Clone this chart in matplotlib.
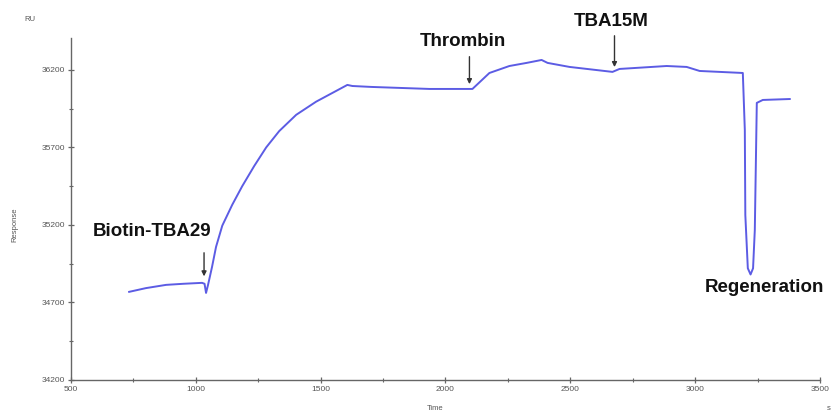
import matplotlib
matplotlib.use("Agg")
import matplotlib.pyplot as plt
from matplotlib.ticker import MultipleLocator

# sensorgram trace (time in s, response in RU)
time_s = [733, 800, 881, 950, 1025, 1035, 1041, 1049, 1065, 1081, 1106, 1146,
          1186, 1234, 1282, 1334, 1402, 1482, 1563, 1607, 1627, 1703, 1936,
          2108, 2176, 2256, 2325, 2385, 2409, 2497, 2669, 2697, 2886, 2966,
          3018, 3191, 3199, 3201, 3211, 3222, 3232, 3239, 3247, 3271, 3379]
response = [34768, 34792, 34813, 34820, 34826, 34820, 34761, 34813, 34929,
            35058, 35195, 35330, 35450, 35580, 35700, 35805, 35910, 35995,
            36065, 36103, 36096, 36090, 36077, 36077, 36180, 36225, 36245,
            36264, 36245, 36219, 36187, 36206, 36225, 36219, 36193, 36180,
            35812, 35264, 34920, 34880, 34920, 35167, 35987, 36006, 36012]

# event labels: text, text position, arrow tip / tail
events = ["Biotin-TBA29", "Thrombin", "TBA15M", "Regeneration"]
text_xy = [(825, 35155), (2068, 36380), (2665, 36509), (3279, 34793)]
arrow_tip = [(1033, 34850), (2096, 36090), (2677, 36200), None]
arrow_tail = [(1033, 35038), (2096, 36303), (2677, 36438), None]

x_ticks = [500, 1000, 1500, 2000, 2500, 3000, 3500]
y_ticks = [34200, 34700, 35200, 35700, 36200]

plt.rcParams["font.family"] = ["Liberation Sans", "DejaVu Sans"]

fig = plt.figure(figsize=(8.35, 4.17), dpi=100)
ax = fig.add_axes([0.085, 0.089, 0.897, 0.82])

ax.plot(time_s, response, color="#5c5ce4", lw=1.4)

ax.set_xlim(500, 3500)
ax.set_ylim(34200, 36406)
ax.set_xticks(x_ticks)
ax.set_yticks(y_ticks)
ax.xaxis.set_minor_locator(MultipleLocator(500, offset=250))
ax.yaxis.set_minor_locator(MultipleLocator(500, offset=450))

axis_grey = "#666666"
for side in ["top", "right"]:
    ax.spines[side].set_visible(False)
for side in ["left", "bottom"]:
    ax.spines[side].set_color(axis_grey)
    ax.spines[side].set_linewidth(1.0)
ax.tick_params(which="major", direction="inout", length=5, width=0.9,
               colors=axis_grey, labelsize=6, labelcolor="#555555", pad=2)
ax.tick_params(which="minor", direction="inout", length=3, width=0.8,
               colors=axis_grey)

for label, (tx, ty), tip, tail in zip(events, text_xy, arrow_tip, arrow_tail):
    ax.text(tx, ty, label, ha="center", va="center", fontsize=13.5,
            fontweight="bold", color="#111111", clip_on=False)
    if tip is not None:
        ax.annotate("", xy=tip, xytext=tail,
                    arrowprops=dict(arrowstyle="-|>", color="#333333",
                                    lw=1.0, mutation_scale=7),
                    annotation_clip=False)

fig.text(0.521, 0.017, "Time", fontsize=5.5, color="#555555", ha="center")
fig.text(0.018, 0.46, "Response", fontsize=5.5, color="#555555",
         rotation=90, ha="center", va="center")
fig.text(0.036, 0.95, "RU", fontsize=5.5, color="#555555", ha="center")
fig.text(0.995, 0.017, "s", fontsize=5.5, color="#555555", ha="right")

fig.savefig("out.png", dpi=100)
